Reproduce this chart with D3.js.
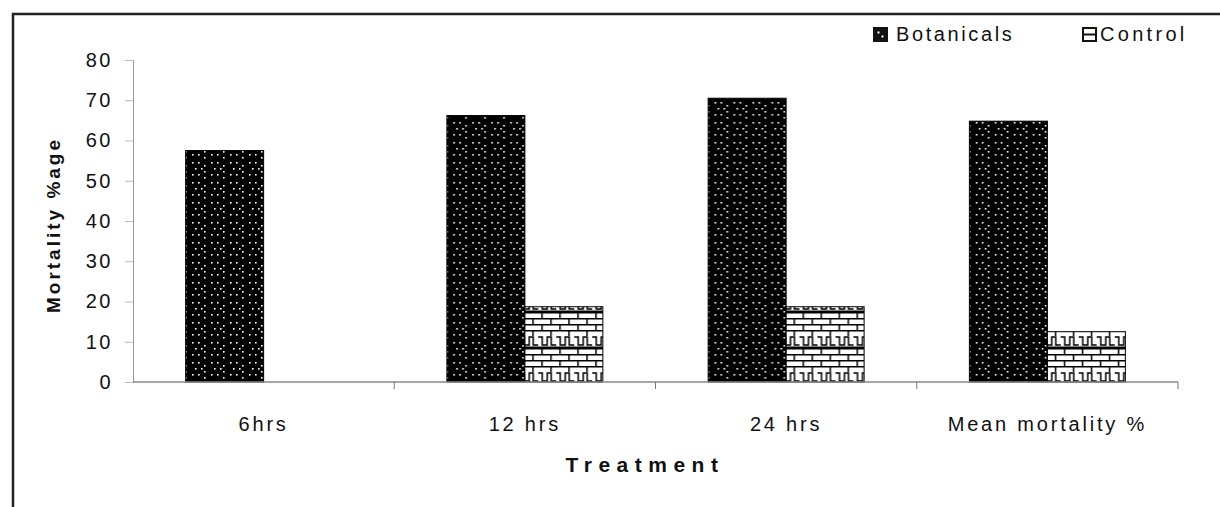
<!DOCTYPE html>
<html>
<head>
<meta charset="utf-8">
<script src="https://cdn.jsdelivr.net/npm/d3@7"></script>
<style>
  body { margin: 0; background: #fff; }
  text { font-family: "Liberation Sans", Arial, sans-serif; fill: #111; }
</style>
</head>
<body>
<svg id="chart" width="1220" height="507"></svg>
<script>
"use strict"

// chart data
const categories = ["6hrs", "12 hrs", "24 hrs", "Mean mortality %"]
const seriesNames = ["Botanicals", "Control"]
const botanicals = [57.5, 66.2, 70.5, 64.8]
const control = [0, 18.7, 18.7, 12.5]
const yTicks = [0, 10, 20, 30, 40, 50, 60, 70, 80]

const svg = d3.select("#chart")
const margins = { top: 60, right: 42, bottom: 125, left: 133 }
const width = 1220 - margins.left - margins.right
const height = 507 - margins.top - margins.bottom

// patterns for the two series
const defs = svg.append("defs")
const dots = defs.append("pattern")
    .attr("id", "dots")
    .attr("patternUnits", "userSpaceOnUse")
    .attr("width", 19).attr("height", 20)
dots.append("rect").attr("width", 19).attr("height", 20).attr("fill", "#000")
const dotPos = [[2, 2], [8, 2], [5, 8], [2, 14], [8, 14], [14, 5], [14, 11], [14, 17], [11, 8]]
dotPos.forEach(p => dots.append("rect")
    .attr("x", p[0]).attr("y", p[1]).attr("width", 1.6).attr("height", 1.6).attr("fill", "#fff"))

const brick = defs.append("pattern")
    .attr("id", "brick")
    .attr("patternUnits", "userSpaceOnUse")
    .attr("width", 18).attr("height", 36)
brick.append("rect").attr("width", 18).attr("height", 36).attr("fill", "#fff")
// brick rows
for (let r = 0; r < 4; ++r) {
    brick.append("rect").attr("x", 0).attr("y", r * 6).attr("width", 18).attr("height", 1.5).attr("fill", "#000")
    const off = r % 2 === 0 ? 3 : 12
    brick.append("rect").attr("x", off).attr("y", r * 6).attr("width", 1.5).attr("height", 6).attr("fill", "#000")
}
// zigzag band
brick.append("path")
    .attr("d", "M0,25 L4,25 L4,33 L9,33 L9,25 L13,25 L13,33 L18,33")
    .attr("fill", "none").attr("stroke", "#000").attr("stroke-width", 1.5)
brick.append("rect").attr("x", 0).attr("y", 34.5).attr("width", 18).attr("height", 1.5).attr("fill", "#000")

// outer frame
svg.append("path")
    .attr("d", "M13,507 L13,14 L1220,14")
    .attr("fill", "none").attr("stroke", "#222").attr("stroke-width", 2.5)

const g = svg.append("g").attr("transform", `translate(${margins.left},${margins.top})`)

const x = d3.scaleBand().domain(categories).range([0, width]).padding(0)
const xInner = d3.scaleBand().domain(seriesNames).range([0, x.bandwidth()]).paddingInner(0).paddingOuter(0.675)
const y = d3.scaleLinear().domain([0, 80]).range([height, 0])

// bars
const rows = categories.map((c, i) => ({ cat: c, values: [botanicals[i], control[i]] }))
const groups = g.selectAll(".grp").data(rows).join("g")
    .attr("transform", d => `translate(${x(d.cat)},0)`)
groups.selectAll("rect").data(d => d.values.map((v, j) => ({ name: seriesNames[j], v: v })))
    .join("rect")
    .attr("x", d => xInner(d.name))
    .attr("y", d => y(d.v))
    .attr("width", xInner.bandwidth())
    .attr("height", d => height - y(d.v))
    .attr("fill", d => d.name === "Botanicals" ? "url(#dots)" : "url(#brick)")
    .attr("stroke", "#000")
    .attr("stroke-width", d => d.v > 0 ? 1 : 0)

// y axis
const yAxis = g.append("g").call(d3.axisLeft(y).tickValues(yTicks).tickSize(8).tickPadding(12))
yAxis.select(".domain").attr("stroke", "#999")
yAxis.selectAll(".tick line").attr("stroke", "#bbb")
yAxis.selectAll(".tick text")
    .attr("font-size", 20)
    .attr("letter-spacing", 2.5)
    .attr("font-family", "Liberation Sans, Arial, sans-serif")
    .attr("fill", "#222")

// x axis with ticks at band edges
const xAxis = g.append("g").attr("transform", `translate(0,${height})`)
xAxis.append("line").attr("x1", 0).attr("x2", width).attr("stroke", "#888").attr("stroke-width", 1.3)
xAxis.selectAll(".edge").data(categories.slice(1).concat(["end"])).join("line")
    .attr("x1", (d, i) => x.step() * (i + 1))
    .attr("x2", (d, i) => x.step() * (i + 1))
    .attr("y1", 0).attr("y2", 7)
    .attr("stroke", "#777")
xAxis.selectAll(".lbl").data(categories).join("text")
    .attr("x", d => x(d) + x.bandwidth() / 2)
    .attr("y", 49)
    .attr("text-anchor", "middle")
    .attr("font-size", 20)
    .attr("letter-spacing", 2.8)
    .attr("fill", "#222")
    .text(d => d)

// axis titles
svg.append("text")
    .attr("transform", "translate(60,225) rotate(-90)")
    .attr("text-anchor", "middle")
    .attr("font-size", 19).attr("font-weight", "bold")
    .attr("letter-spacing", 3)
    .text("Mortality %age")
svg.append("text")
    .attr("x", 645).attr("y", 472)
    .attr("text-anchor", "middle")
    .attr("font-size", 21).attr("font-weight", "bold")
    .attr("letter-spacing", 6.5)
    .text("Treatment")

// legend
const legendItems = [
    { name: "Botanicals", x: 874 },
    { name: "Control", x: 1083 }
]
const legend = svg.selectAll(".legend").data(legendItems).join("g")
    .attr("transform", d => `translate(${d.x},28)`)
legend.append("rect")
    .attr("width", 13).attr("height", 13)
    .attr("fill", d => d.name === "Botanicals" ? "#111" : "#fff")
    .attr("stroke", "#111").attr("stroke-width", 2)
legend.filter(d => d.name === "Botanicals").append("rect")
    .attr("x", 3.5).attr("y", 3.5).attr("width", 2).attr("height", 2).attr("fill", "#fff")
legend.filter(d => d.name === "Botanicals").append("rect")
    .attr("x", 7.5).attr("y", 7.5).attr("width", 2).attr("height", 2).attr("fill", "#fff")
legend.filter(d => d.name === "Control").append("line")
    .attr("x1", 0).attr("x2", 13).attr("y1", 6.5).attr("y2", 6.5)
    .attr("stroke", "#111").attr("stroke-width", 2)
legend.append("text")
    .attr("x", d => d.name === "Botanicals" ? 22 : 17).attr("y", 13)
    .attr("font-size", 20)
    .attr("letter-spacing", d => d.name === "Botanicals" ? 2.6 : 3.3)
    .attr("fill", "#222")
    .text(d => d.name)
</script>
</body>
</html>
